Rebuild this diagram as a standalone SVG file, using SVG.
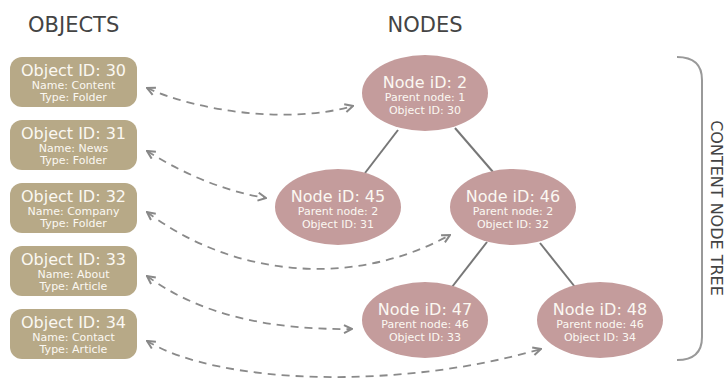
<svg xmlns="http://www.w3.org/2000/svg" width="728" height="391" viewBox="0 0 728 391">
<style>
.title{font-family:"DejaVu Sans",sans-serif;font-size:21px;fill:#444;}
.obj rect{fill:#b7a987;}
.node ellipse{fill:#c49c9c;}
.big{font-family:"DejaVu Sans",sans-serif;font-size:16px;fill:#fbf8f2;text-anchor:middle;}
.small{font-family:"DejaVu Sans",sans-serif;font-size:11px;fill:#fbf8f2;text-anchor:middle;}
.tree{stroke:#777;stroke-width:2;fill:none;}
.dash{stroke:#8a8a8a;stroke-width:1.8;fill:none;stroke-dasharray:8 6;marker-start:url(#ah);marker-end:url(#ah);}
</style>
<defs>
<marker id="ah" viewBox="0 0 10 10" refX="9" refY="5" markerWidth="10" markerHeight="10" markerUnits="userSpaceOnUse" orient="auto-start-reverse">
<path d="M1,1 L9,5 L1,9" fill="none" stroke="#888" stroke-width="2"/>
</marker>
</defs>
<rect width="728" height="391" fill="#fff"/>
<text class="title" x="28" y="32">OBJECTS</text>
<text class="title" x="425" y="32" text-anchor="middle">NODES</text>

<g id="bracket">
<path d="M677,57 Q702,57 702,80 L702,337 Q702,360 677,360" fill="none" stroke="#999" stroke-width="2"/>
<text class="title" transform="translate(711,208) rotate(90)" text-anchor="middle" style="font-size:16px">CONTENT NODE TREE</text>
</g>

<g id="connectors">
<path class="tree" d="M398,130 L365,173"/>
<path class="tree" d="M455,128 L493,172"/>
<path class="tree" d="M487,242 L452,287"/>
<path class="tree" d="M540,243 L575,287"/>
<path class="dash" d="M147,88 C200,112 290,124 353,106"/>
<path class="dash" d="M147,151 C190,178 230,192 266,198"/>
<path class="dash" d="M147,212 C230,275 350,290 450,235"/>
<path class="dash" d="M147,276 C200,315 270,330 352,329"/>
<path class="dash" d="M147,341 C220,385 400,390 541,349"/>
</g>

<g id="obj30" class="obj"><rect x="10" y="57" width="127" height="50" rx="12"/><text class="big" x="73.5" y="76">Object ID: 30</text><text class="small" x="73.5" y="89">Name: Content</text><text class="small" x="73.5" y="101">Type: Folder</text></g>
<g id="obj31" class="obj"><rect x="10" y="120" width="127" height="50" rx="12"/><text class="big" x="73.5" y="139">Object ID: 31</text><text class="small" x="73.5" y="152">Name: News</text><text class="small" x="73.5" y="164">Type: Folder</text></g>
<g id="obj32" class="obj"><rect x="10" y="183" width="127" height="50" rx="12"/><text class="big" x="73.5" y="202">Object ID: 32</text><text class="small" x="73.5" y="215">Name: Company</text><text class="small" x="73.5" y="227">Type: Folder</text></g>
<g id="obj33" class="obj"><rect x="10" y="246" width="127" height="50" rx="12"/><text class="big" x="73.5" y="265">Object ID: 33</text><text class="small" x="73.5" y="278">Name: About</text><text class="small" x="73.5" y="290">Type: Article</text></g>
<g id="obj34" class="obj"><rect x="10" y="309" width="127" height="50" rx="12"/><text class="big" x="73.5" y="328">Object ID: 34</text><text class="small" x="73.5" y="341">Name: Contact</text><text class="small" x="73.5" y="353">Type: Article</text></g>

<g id="node2" class="node"><ellipse cx="425" cy="93" rx="63" ry="38"/><text class="big" x="425" y="88">Node iD: 2</text><text class="small" x="425" y="101">Parent node: 1</text><text class="small" x="425" y="114">Object ID: 30</text></g>
<g id="node45" class="node"><ellipse cx="338" cy="207" rx="63" ry="38"/><text class="big" x="338" y="202">Node iD: 45</text><text class="small" x="338" y="215">Parent node: 2</text><text class="small" x="338" y="228">Object ID: 31</text></g>
<g id="node46" class="node"><ellipse cx="513" cy="207" rx="63" ry="38"/><text class="big" x="513" y="202">Node iD: 46</text><text class="small" x="513" y="215">Parent node: 2</text><text class="small" x="513" y="228">Object ID: 32</text></g>
<g id="node47" class="node"><ellipse cx="425" cy="320" rx="63" ry="38"/><text class="big" x="425" y="315">Node iD: 47</text><text class="small" x="425" y="328">Parent node: 46</text><text class="small" x="425" y="341">Object ID: 33</text></g>
<g id="node48" class="node"><ellipse cx="600" cy="320" rx="63" ry="38"/><text class="big" x="600" y="315">Node iD: 48</text><text class="small" x="600" y="328">Parent node: 46</text><text class="small" x="600" y="341">Object ID: 34</text></g>
</svg>
